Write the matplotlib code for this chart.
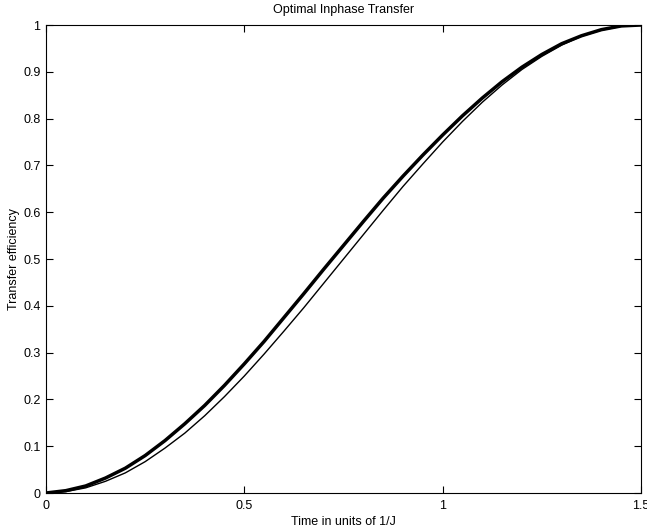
import numpy as np
import matplotlib
matplotlib.use("Agg")
import matplotlib.pyplot as plt

plt.rcParams['font.family'] = ['Liberation Sans', 'DejaVu Sans']

# time axis (units of 1/J)
t = [0.00, 0.05, 0.10, 0.15, 0.20, 0.25, 0.30, 0.35, 0.40, 0.45,
     0.50, 0.55, 0.60, 0.65, 0.70, 0.75, 0.80, 0.85, 0.90, 0.95,
     1.00, 1.05, 1.10, 1.15, 1.20, 1.25, 1.30, 1.35, 1.40, 1.45, 1.50]

# optimal transfer (thick curve)
optimal = [0.000, 0.005, 0.015, 0.032, 0.053, 0.080, 0.112, 0.148, 0.187, 0.230,
           0.276, 0.324, 0.375, 0.426, 0.478, 0.529, 0.580, 0.630, 0.677, 0.722,
           0.765, 0.806, 0.844, 0.879, 0.910, 0.937, 0.960, 0.977, 0.990, 0.998, 1.000]

# reference transfer (thin curve)
reference = [0.000, 0.003, 0.011, 0.025, 0.043, 0.067, 0.096, 0.128, 0.165, 0.206,
             0.250, 0.297, 0.346, 0.396, 0.448, 0.500, 0.552, 0.604, 0.655, 0.703,
             0.750, 0.794, 0.835, 0.872, 0.905, 0.933, 0.957, 0.976, 0.989, 0.997, 1.000]

xticks = [0, 0.5, 1, 1.5]
xticklabels = ['0', '0.5', '1', '1.5']
yticks = [0, 0.1, 0.2, 0.3, 0.4, 0.5, 0.6, 0.7, 0.8, 0.9, 1]
yticklabels = ['0', '0.1', '0.2', '0.3', '0.4', '0.5', '0.6', '0.7', '0.8', '0.9', '1']

fig = plt.figure(figsize=(6.47, 5.31), dpi=100)
ax = fig.add_axes([46/647, 38/531, 595/647, 468/531])

ax.plot(t, reference, color='black', linewidth=1.0)
ax.plot(t, optimal, color='black', linewidth=2.5)

ax.set_xlim(0, 1.5)
ax.set_ylim(0, 1)
ax.set_xticks(xticks)
ax.set_xticklabels(xticklabels)
ax.set_yticks(yticks)
ax.set_yticklabels(yticklabels)
ax.tick_params(direction='in', length=5, width=0.8, top=True, right=True,
               labelsize=9, colors='black')
ax.tick_params(axis='x', pad=5)
ax.tick_params(axis='y', pad=4)
for s in ax.spines.values():
    s.set_linewidth(0.8)

ax.set_title('Optimal Inphase Transfer', fontsize=9, pad=9)
ax.set_xlabel('Time in units of 1/J', fontsize=9, labelpad=3)
ax.set_ylabel('Transfer efficiency', fontsize=9, labelpad=2)

fig.savefig('out.png', dpi=100)
